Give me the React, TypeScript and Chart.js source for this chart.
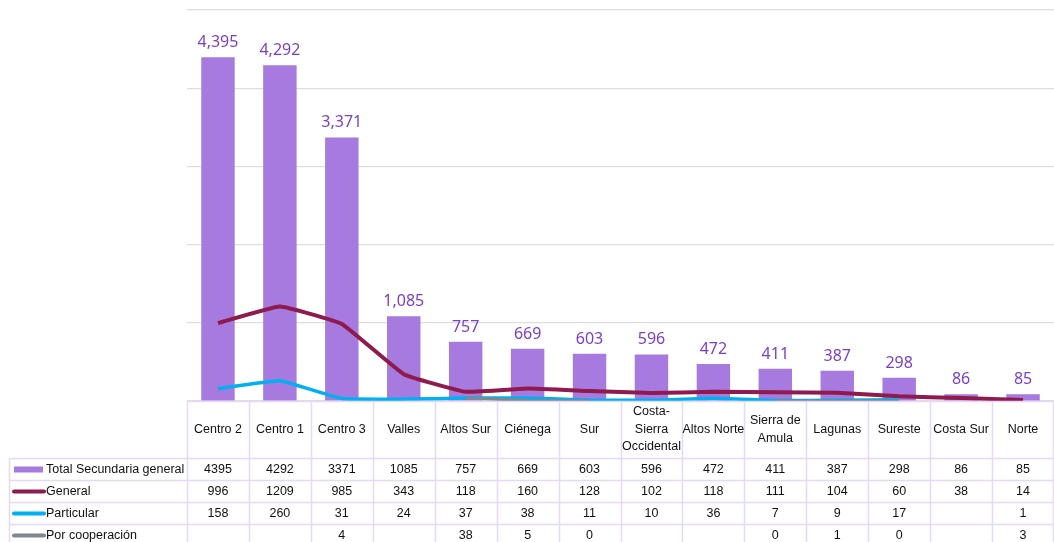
import React, { useEffect, useRef } from "react";
import { Chart, registerables } from "chart.js";

Chart.register(...registerables);

const categories = ["Centro 2", "Centro 1", "Centro 3", "Valles", "Altos Sur", "Ciénega", "Sur", "Costa-Sierra Occidental", "Altos Norte", "Sierra de Amula", "Lagunas", "Sureste", "Costa Sur", "Norte"];
const headerLines = [["Centro 2"], ["Centro 1"], ["Centro 3"], ["Valles"], ["Altos Sur"], ["Ciénega"], ["Sur"], ["Costa-", "Sierra", "Occidental"], ["Altos Norte"], ["Sierra de", "Amula"], ["Lagunas"], ["Sureste"], ["Costa Sur"], ["Norte"]];
const totalSecundaria = [4395, 4292, 3371, 1085, 757, 669, 603, 596, 472, 411, 387, 298, 86, 85];
const general = [996, 1209, 985, 343, 118, 160, 128, 102, 118, 111, 104, 60, 38, 14];
const particular: (number | null)[] = [158, 260, 31, 24, 37, 38, 11, 10, 36, 7, 9, 17, null, 1];
const cooperacion: (number | null)[] = [null, null, 4, null, 38, 5, 0, null, null, 0, 1, 0, null, 3];
const seriesNames = ["Total Secundaria general", "General", "Particular", "Por cooperación"];
const yTicks = [0, 1000, 2000, 3000, 4000, 5000];

const BAR_COLOR = "#a67ade";
const LABEL_COLOR = "#7b3fd0";
const GENERAL_COLOR = "#8e1a4e";
const PARTICULAR_COLOR = "#00b0f0";
const COOP_COLOR = "#7f8890";
const BORDER_COLOR = "#e6d8f6";

const barLabelPlugin = {
  id: "barLabels",
  afterDatasetsDraw(chart: any) {
    const ctx = chart.ctx;
    const meta = chart.getDatasetMeta(0);
    ctx.save();
    ctx.font = '400 16px "Noto Sans", sans-serif';
    ctx.fillStyle = LABEL_COLOR;
    ctx.textAlign = "center";
    ctx.textBaseline = "alphabetic";
    meta.data.forEach((bar: any, i: number) => {
      ctx.fillText(totalSecundaria[i].toLocaleString("en-US"), bar.x, bar.y - 10);
    });
    ctx.restore();
  },
};

const tablePlugin = {
  id: "dataTable",
  afterDraw(chart: any) {
    const ctx = chart.ctx;
    const area = chart.chartArea;
    const xs = chart.scales.x;
    const n = categories.length;
    const colW = (area.right - area.left) / n;
    const top = area.bottom;
    const headerBottom = top + 57;
    const rowH = 22;
    const leftEdge = 9.5;
    const rightEdge = area.right - 0.5;
    const bottom = chart.height;
    ctx.save();
    ctx.strokeStyle = BORDER_COLOR;
    ctx.lineWidth = 1.5;
    ctx.beginPath();
    ctx.moveTo(area.left, top + 0.5);
    ctx.lineTo(rightEdge, top + 0.5);
    for (let r = 0; r < 4; r++) {
      const y = Math.round(headerBottom + r * rowH) + 0.5;
      ctx.moveTo(leftEdge, y);
      ctx.lineTo(rightEdge, y);
    }
    for (let c = 0; c <= n; c++) {
      const x = Math.round(area.left + c * colW) + 0.5;
      ctx.moveTo(Math.min(x, rightEdge), top);
      ctx.lineTo(Math.min(x, rightEdge), bottom);
    }
    ctx.moveTo(leftEdge, headerBottom);
    ctx.lineTo(leftEdge, bottom);
    ctx.stroke();

    ctx.fillStyle = "#111";
    ctx.font = '12.5px "Liberation Sans", Arial, sans-serif';
    ctx.textAlign = "center";
    ctx.textBaseline = "middle";
    const headerMid = (top + headerBottom) / 2;
    headerLines.forEach((lines, i) => {
      const cx = xs.getPixelForValue(i);
      const lh = 17.5;
      lines.forEach((t, k) => {
        ctx.fillText(t, cx, headerMid + (k - (lines.length - 1) / 2) * lh);
      });
    });
    const rows = [totalSecundaria, general, particular, cooperacion];
    rows.forEach((vals, r) => {
      const cy = headerBottom + r * rowH + rowH / 2 + 0.5;
      vals.forEach((v, i) => {
        if (v === null || v === undefined) return;
        ctx.fillText(String(v), xs.getPixelForValue(i), cy);
      });
    });
    const keyColors = [BAR_COLOR, GENERAL_COLOR, PARTICULAR_COLOR, COOP_COLOR];
    ctx.textAlign = "left";
    seriesNames.forEach((name, r) => {
      const cy = headerBottom + r * rowH + rowH / 2 + 0.5;
      ctx.fillStyle = keyColors[r];
      if (r === 0) {
        ctx.fillRect(14, cy - 3, 29, 6);
      } else {
        ctx.strokeStyle = keyColors[r];
        ctx.lineWidth = 4;
        ctx.lineCap = "round";
        ctx.beginPath();
        ctx.moveTo(14, cy);
        ctx.lineTo(44, cy);
        ctx.stroke();
      }
      ctx.fillStyle = "#111";
      ctx.fillText(name, 46, cy);
    });
    ctx.restore();
  },
};

export default function App() {
  const canvasRef = useRef<HTMLCanvasElement | null>(null);

  useEffect(() => {
    document.body.style.margin = "0";
    const canvas = canvasRef.current;
    if (!canvas) return;
    const chart = new Chart(canvas, {
      type: "bar",
      data: {
        labels: categories,
        datasets: [
          {
            type: "bar",
            label: seriesNames[0],
            data: totalSecundaria,
            backgroundColor: BAR_COLOR,
            barPercentage: 0.54,
            categoryPercentage: 1,
            order: 4,
          },
          {
            type: "line",
            label: seriesNames[1],
            data: general,
            borderColor: GENERAL_COLOR,
            backgroundColor: GENERAL_COLOR,
            borderWidth: 4,
            pointRadius: 0,
            tension: 0.1,
            order: 3,
          },
          {
            type: "line",
            label: seriesNames[2],
            data: particular,
            borderColor: PARTICULAR_COLOR,
            backgroundColor: PARTICULAR_COLOR,
            borderWidth: 3.5,
            pointRadius: 0,
            tension: 0.1,
            spanGaps: false,
            order: 2,
          },
          {
            type: "line",
            label: seriesNames[3],
            data: cooperacion,
            borderColor: COOP_COLOR,
            backgroundColor: COOP_COLOR,
            borderWidth: 3,
            pointRadius: 0,
            tension: 0.1,
            spanGaps: false,
            order: 1,
          },
        ],
      } as any,
      options: {
        responsive: true,
        maintainAspectRatio: false,
        animation: false,
        layout: { padding: { left: 187, right: 0, top: 10, bottom: 141 } },
        plugins: {
          legend: { display: false },
          tooltip: { enabled: false },
          title: { display: false },
        },
        scales: {
          x: { display: false, offset: true },
          y: {
            display: true,
            min: yTicks[0],
            max: yTicks[yTicks.length - 1],
            afterBuildTicks: (s: any) => {
              s.ticks = yTicks.map((v) => ({ value: v }));
            },
            afterFit: (s: any) => {
              s.width = 0;
            },
            ticks: { display: false },
            border: { display: false },
            grid: { color: "#dedede", lineWidth: 1.2, drawTicks: false },
          },
        },
      } as any,
      plugins: [barLabelPlugin, tablePlugin],
    });
    return () => chart.destroy();
  }, []);

  return (
    <div style={{ position: "relative", width: 1054, height: 542, background: "#fff" }}>
      <canvas ref={canvasRef} />
    </div>
  );
}
